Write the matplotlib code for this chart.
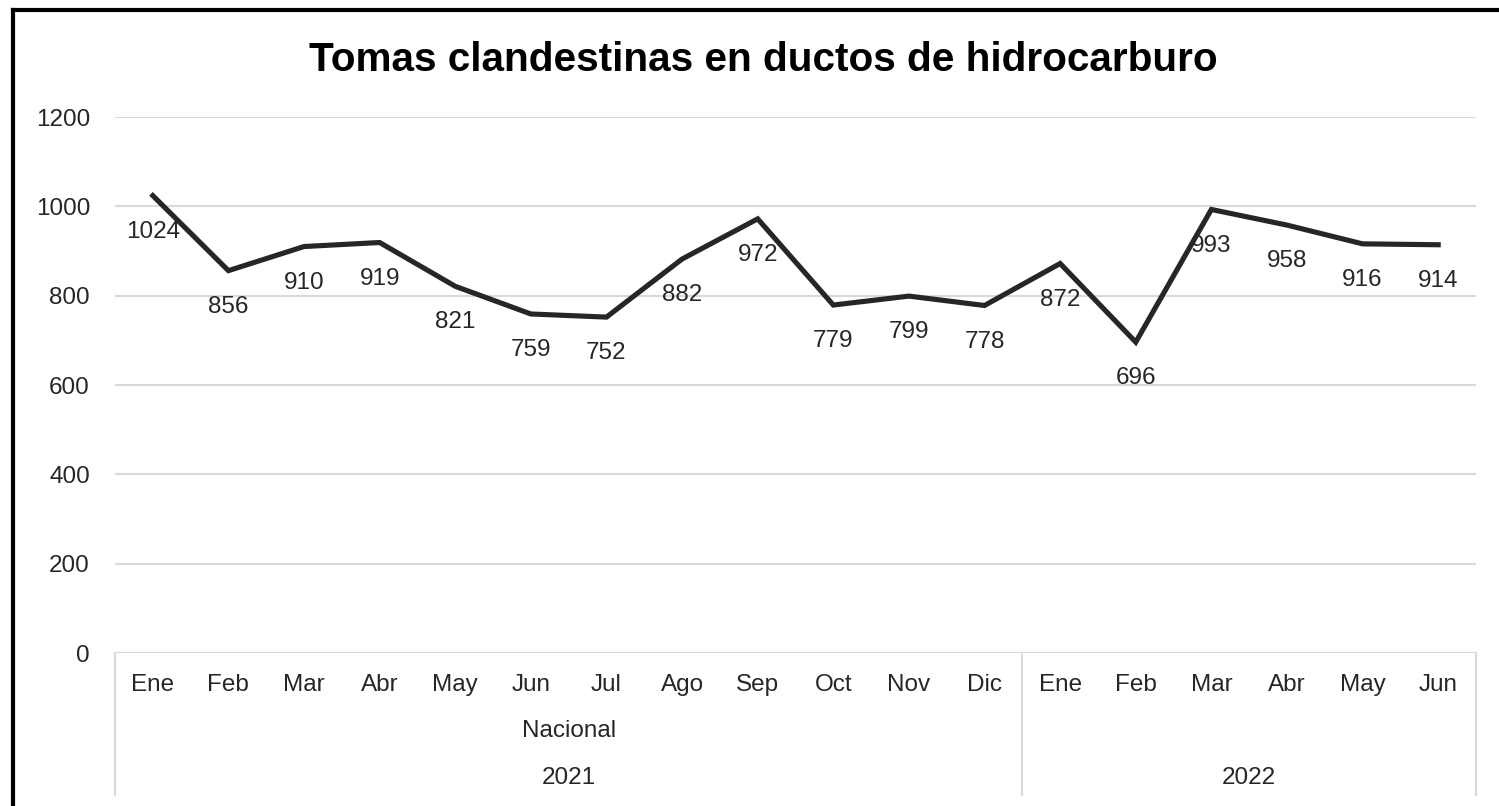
import matplotlib.pyplot as plt
from matplotlib.lines import Line2D

plt.rcParams['font.family'] = ['Liberation Sans', 'DejaVu Sans']

months = ['Ene', 'Feb', 'Mar', 'Abr', 'May', 'Jun', 'Jul', 'Ago', 'Sep', 'Oct', 'Nov', 'Dic',
          'Ene', 'Feb', 'Mar', 'Abr', 'May', 'Jun']
values = [1024, 856, 910, 919, 821, 759, 752, 882, 972, 779, 799, 778,
          872, 696, 993, 958, 916, 914]
years = ['2021', '2022']
year_sizes = [12, 6]
region = 'Nacional'
title = 'Tomas clandestinas en ductos de hidrocarburo'

W, H = 1499, 806
fig = plt.figure(figsize=(W / 100, H / 100), dpi=100)

# plot area in pixels
px_left, px_right, px_top, px_bottom = 115, 1476, 117, 653
ax = fig.add_axes([px_left / W, 1 - px_bottom / H,
                   (px_right - px_left) / W, (px_bottom - px_top) / H])
ax_h = px_bottom - px_top
txt_color = '#262626'

x = list(range(len(values)))
ax.plot(x, values, color='#262626', linewidth=3.7, solid_joinstyle='miter', zorder=3)

for xi, v in zip(x, values):
    ax.annotate(str(v), (xi, v), xytext=(0, -26), textcoords='offset points',
                ha='center', va='center', fontsize=17.5, color=txt_color, zorder=4)

ax.set_xlim(-0.5, len(values) - 0.5)
ax.set_ylim(0, 1200)
ax.set_yticks(range(0, 1201, 200))
ax.grid(axis='y', color='#d9d9d9', linewidth=1.5, zorder=0)
ax.set_axisbelow(True)
ax.tick_params(axis='y', length=0, pad=18, labelsize=17.5, labelcolor=txt_color)
ax.tick_params(axis='x', length=0)
ax.set_xticks([])
for s in ax.spines.values():
    s.set_visible(False)

# multi-level category axis
xt = ax.get_xaxis_transform()
def ay(px):
    return (px_bottom - px) / ax_h

for xi, m in zip(x, months):
    ax.text(xi, ay(685), m, transform=xt, ha='center', va='center',
            fontsize=17.5, color=txt_color, clip_on=False)

bounds = [-0.5]
for n in year_sizes:
    bounds.append(bounds[-1] + n)
for b in bounds:
    ax.plot([b, b], [0, ay(795)], transform=xt, color='#d9d9d9', linewidth=1.5, clip_on=False)

centers = [(bounds[i] + bounds[i + 1]) / 2 for i in range(len(years))]
ax.text(centers[0], ay(731), region, transform=xt, ha='center', va='center',
        fontsize=17.5, color=txt_color, clip_on=False)
for c, yr in zip(centers, years):
    ax.text(c, ay(778), yr, transform=xt, ha='center', va='center',
            fontsize=17.5, color=txt_color, clip_on=False)

fig.text(763 / W, 1 - 60 / H, title, ha='center', va='center',
         fontsize=29.2, fontweight='bold', color='black')

# black frame (left and top)
fig.add_artist(Line2D([13 / W, 13 / W], [0, 1 - 10 / H], color='black', linewidth=3, transform=fig.transFigure))
fig.add_artist(Line2D([13 / W, 1], [1 - 10 / H, 1 - 10 / H], color='black', linewidth=3, transform=fig.transFigure))

fig.savefig('out.png', dpi=100, facecolor='white')
